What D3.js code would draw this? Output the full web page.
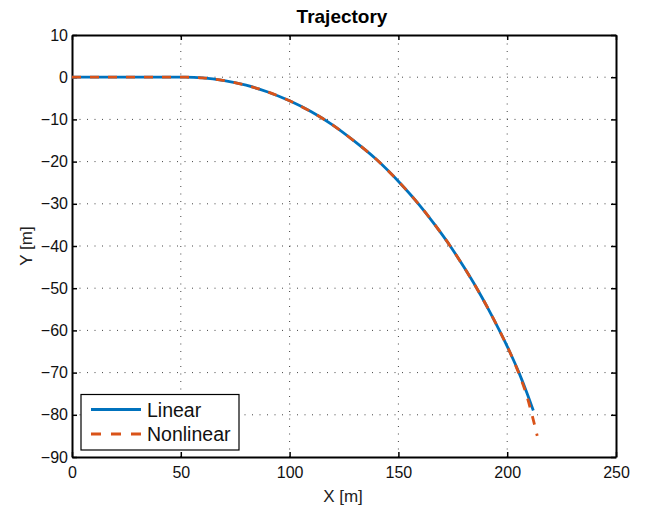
<!DOCTYPE html>
<html>
<head>
<meta charset="utf-8">
<script src="https://d3js.org/d3.v7.min.js"></script>
<style>
html,body{margin:0;padding:0;background:#fff;}
svg{display:block;font-family:"Liberation Sans",Arial,Helvetica,sans-serif;}
</style>
</head>
<body>
<svg id="chart" width="645" height="510"></svg>
<script>
// ---- data ----
const linearX = [0, 26, 52, 60, 70, 80, 90, 100, 110, 119.7, 129.6, 139.7, 150.6, 159.2, 166.8, 173.8, 180.1, 186.0, 191.4, 196.4, 201.1, 205.4, 209.2, 212];
const linearY = [0, 0, 0, -0.15, -0.8, -1.9, -3.5, -5.6, -8.2, -11.3, -15.1, -19.4, -25, -30, -35, -40, -45, -50, -55, -60, -65, -70, -75, -79];
const nonlinearX = [0, 26, 52, 60, 70, 80, 90, 100, 110, 119.7, 129.6, 139.7, 150.6, 159.2, 166.8, 173.8, 180.1, 186.0, 191.4, 196.4, 201.1, 205.2, 208.7, 211.4, 213.8];
const nonlinearY = [0, 0, 0, -0.15, -0.8, -1.9, -3.5, -5.6, -8.2, -11.3, -15.1, -19.4, -25, -30, -35, -40, -45, -50, -55, -60, -65, -70, -75, -80, -85];
const xTicks = [0, 50, 100, 150, 200, 250];
const yTicks = [10, 0, -10, -20, -30, -40, -50, -60, -70, -80, -90];
const seriesNames = ["Linear", "Nonlinear"];
const titleText = "Trajectory";
const xLabel = "X [m]";
const yLabel = "Y [m]";

// ---- layout ----
const svg = d3.select("#chart");
const L = 72, R = 616, T = 35, B = 457;
const x = d3.scaleLinear().domain([0, 250]).range([L, R]);
const y = d3.scaleLinear().domain([-90, 10]).range([B, T]);
const blue = "#0072BD", orange = "#D95319";
const fmt = d => d < 0 ? "\u2212" + Math.abs(d) : String(d);

// grid
const grid = svg.append("g");
grid.selectAll(".gx").data(xTicks.slice(1, -1)).enter().append("line")
  .attr("x1", d => x(d)).attr("x2", d => x(d)).attr("y1", B).attr("y2", T)
  .attr("stroke", "#444").attr("stroke-width", 1).attr("stroke-dasharray", "1,6.5");
grid.selectAll(".gy").data(yTicks.slice(1, -1)).enter().append("line")
  .attr("y1", d => y(d)).attr("y2", d => y(d)).attr("x1", L).attr("x2", R)
  .attr("stroke", "#444").attr("stroke-width", 1).attr("stroke-dasharray", "1,6.5");

// axes
const axB = d3.axisBottom(x).tickValues(xTicks).tickSizeInner(-5).tickSizeOuter(0).tickPadding(10).tickFormat(fmt);
const axT = d3.axisTop(x).tickValues(xTicks).tickSizeInner(-5).tickSizeOuter(0).tickFormat("");
const axLft = d3.axisLeft(y).tickValues(yTicks).tickSizeInner(-5).tickSizeOuter(0).tickPadding(4).tickFormat(fmt);
const axRgt = d3.axisRight(y).tickValues(yTicks).tickSizeInner(-5).tickSizeOuter(0).tickFormat("");
function styleAxis(g) {
  g.select(".domain").attr("stroke", "#000").attr("stroke-width", 2);
  g.selectAll(".tick line").attr("stroke", "#000").attr("stroke-width", 1.5);
  g.selectAll(".tick text").attr("fill", "#111").style("font-size", "16px").style("font-family", "Liberation Sans, Arial, sans-serif");
}
svg.append("g").attr("transform", `translate(0,${B})`).call(axB).call(styleAxis);
svg.append("g").attr("transform", `translate(0,${T})`).call(axT).call(styleAxis);
svg.append("g").attr("transform", `translate(${L},0)`).call(axLft).call(styleAxis);
svg.append("g").attr("transform", `translate(${R},0)`).call(axRgt).call(styleAxis);

// lines
const lineGen = d3.line().x(d => x(d[0])).y(d => y(d[1])).curve(d3.curveMonotoneX);
const linData = linearX.map((v, i) => [v, linearY[i]]);
const nonData = nonlinearX.map((v, i) => [v, nonlinearY[i]]);
svg.append("path").datum(linData).attr("d", lineGen)
  .attr("fill", "none").attr("stroke", blue).attr("stroke-width", 2.8);
svg.append("path").datum(nonData).attr("d", lineGen)
  .attr("fill", "none").attr("stroke", orange).attr("stroke-width", 2.8).attr("stroke-dasharray", "9,9");

// title and labels
svg.append("text").attr("x", 342).attr("y", 23).attr("text-anchor", "middle")
  .style("font-size", "19px").style("font-weight", "bold").attr("fill", "#000").text(titleText);
svg.append("text").attr("x", 343).attr("y", 502).attr("text-anchor", "middle")
  .style("font-size", "17px").attr("fill", "#222").text(xLabel);
svg.append("text").attr("transform", `translate(32,${(T + B) / 2}) rotate(-90)`).attr("text-anchor", "middle")
  .style("font-size", "17px").attr("fill", "#222").text(yLabel);

// legend
const leg = svg.append("g");
leg.append("rect").attr("x", 81).attr("y", 394.5).attr("width", 158).attr("height", 55.5)
  .attr("fill", "#fff").attr("stroke", "#000").attr("stroke-width", 1.2);
const legColors = [blue, orange];
const legDash = [null, "10,10"];
const legY = [409.5, 434];
seriesNames.forEach((name, i) => {
  leg.append("line").attr("x1", 91).attr("x2", 141).attr("y1", legY[i]).attr("y2", legY[i])
    .attr("stroke", legColors[i]).attr("stroke-width", 2.8).attr("stroke-dasharray", legDash[i]);
  leg.append("text").attr("x", 147).attr("y", legY[i] + 7).style("font-size", "19.5px").attr("fill", "#111").text(name);
});
</script>
</body>
</html>
